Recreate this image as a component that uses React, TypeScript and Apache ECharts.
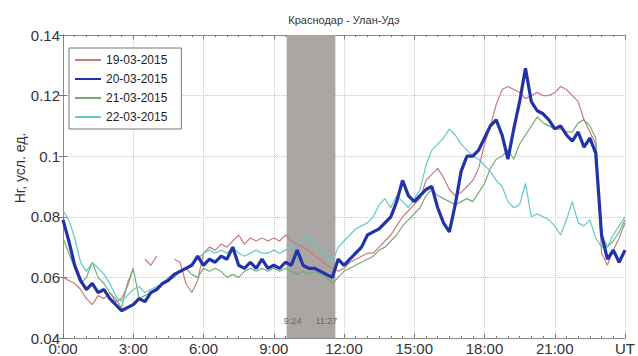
import React, { useEffect, useRef } from "react";
import * as echarts from "echarts";

const TITLE = "Краснодар - Улан-Удэ";
const Y_NAME = "Нг, усл. ед.";
const SERIES_NAMES = ["19-03-2015", "20-03-2015", "21-03-2015", "22-03-2015"];
const SERIES_COLORS = ["#c97b7b", "#2233aa", "#74ad74", "#62c8c8"];
const X_TICK_LABELS = ["0:00", "3:00", "6:00", "9:00", "12:00", "15:00", "18:00", "21:00", "UT"];
const STEP_HOURS = 0.25;
const SHADE_RANGE = [9.55, 11.63];
const SHADE_LABELS = ["9:24", "11:27"];

// values every 15 minutes, 0:00 .. 24:00 (null = no data)
const D19: (number | null)[] = [
  0.060, 0.059, 0.058, 0.056, 0.053, 0.051, 0.054, 0.053, 0.055, 0.052, 0.053, 0.057,
  0.063, null, 0.066, 0.064, 0.067, null, null, 0.066, 0.065, 0.058, 0.055, 0.059,
  0.068, 0.070, 0.069, 0.071, 0.070, 0.072, 0.074, 0.071, 0.073, 0.072, 0.073, 0.072,
  0.073, 0.072, 0.074, 0.072, 0.071, 0.070, 0.069, 0.067, 0.066, 0.064, 0.063, 0.062,
  0.063, 0.065, 0.066, 0.067, 0.068, 0.068, 0.070, 0.072, 0.074, 0.077, 0.080, 0.082,
  0.084, 0.086, 0.092, 0.094, 0.096, 0.093, 0.089, 0.087, 0.088, 0.090, 0.092, 0.096,
  0.104, 0.110, 0.117, 0.122, 0.123, 0.122, 0.121, 0.119, 0.120, 0.121, 0.120, 0.120,
  0.121, 0.123, 0.122, 0.120, 0.118, 0.112, 0.108, 0.104, 0.068, 0.064, 0.069, 0.073,
  0.078,
];
const D20: (number | null)[] = [
  0.079, 0.072, 0.064, 0.059, 0.056, 0.058, 0.055, 0.056, 0.053, 0.051, 0.049, 0.050,
  0.051, 0.053, 0.052, 0.055, 0.056, 0.058, 0.059, 0.061, 0.062, 0.063, 0.064, 0.067,
  0.064, 0.066, 0.065, 0.067, 0.066, 0.070, 0.064, 0.063, 0.065, 0.063, 0.066, 0.063,
  0.064, 0.063, 0.065, 0.064, 0.069, 0.064, 0.063, 0.063, 0.062, 0.061, 0.060, 0.066,
  0.064, 0.066, 0.068, 0.070, 0.074, 0.075, 0.076, 0.078, 0.080, 0.085, 0.092, 0.087,
  0.085, 0.087, 0.089, 0.090, 0.083, 0.078, 0.075, 0.084, 0.095, 0.100, 0.100, 0.102,
  0.106, 0.110, 0.112, 0.107, 0.099, 0.109, 0.118, 0.129, 0.118, 0.115, 0.114, 0.112,
  0.109, 0.110, 0.107, 0.105, 0.108, 0.103, 0.106, 0.101, 0.074, 0.066, 0.069, 0.065,
  0.069,
];
const D21: (number | null)[] = [
  0.073, 0.068, 0.063, 0.058, 0.060, 0.065, 0.060, 0.058, 0.055, 0.053, 0.050, 0.058,
  0.063, 0.053, 0.054, 0.055, 0.056, 0.058, 0.059, 0.060, 0.062, 0.063, 0.061, 0.060,
  0.063, 0.062, 0.063, 0.062, 0.060, 0.061, 0.060, 0.062, 0.063, 0.062, 0.063, 0.062,
  0.063, 0.062, 0.063, 0.062, 0.061, 0.062, 0.061, 0.062, 0.061, 0.060, 0.058, 0.060,
  0.062, 0.063, 0.064, 0.065, 0.066, 0.067, 0.069, 0.070, 0.072, 0.074, 0.077, 0.079,
  0.081, 0.083, 0.087, 0.089, 0.087, 0.086, 0.085, 0.084, 0.085, 0.086, 0.085, 0.088,
  0.091, 0.096, 0.099, 0.100, 0.102, 0.099, 0.104, 0.107, 0.110, 0.113, 0.111, 0.110,
  0.109, 0.109, 0.108, 0.108, 0.111, 0.112, 0.110, 0.106, 0.074, 0.070, 0.072, 0.075,
  0.079,
];
const D22: (number | null)[] = [
  0.082, 0.079, 0.073, 0.065, 0.062, 0.065, 0.063, 0.061, 0.058, 0.054, 0.052, 0.054,
  0.056, 0.057, 0.055, 0.056, 0.057, 0.058, 0.060, 0.061, 0.062, 0.063, 0.064, 0.066,
  0.068, 0.069, 0.068, 0.069, 0.068, 0.070, 0.068, 0.067, 0.068, 0.069, 0.068, 0.068,
  0.069, 0.068, 0.069, 0.070, 0.071, 0.072, 0.074, 0.071, 0.069, 0.067, 0.065, 0.070,
  0.072, 0.074, 0.076, 0.077, 0.078, 0.080, 0.084, 0.086, 0.083, 0.087, 0.085, 0.083,
  0.086, 0.089, 0.097, 0.102, 0.104, 0.106, 0.109, 0.107, 0.104, 0.102, 0.100, 0.099,
  0.097, 0.095, 0.092, 0.090, 0.085, 0.083, 0.084, 0.091, 0.080, 0.081, 0.080, 0.079,
  0.077, 0.074, 0.079, 0.085, 0.078, 0.077, 0.079, 0.073, 0.070, 0.070, 0.074, 0.077,
  0.080,
];

const FONT = "'Liberation Sans', Arial, Helvetica, sans-serif";

function toPairs(d: (number | null)[]) {
  return d.map((v, i) => [i * STEP_HOURS, v === null ? "-" : v]);
}

export default function App() {
  const ref = useRef<HTMLDivElement>(null);
  useEffect(() => {
    if (!ref.current) return;
    const chart = echarts.init(ref.current, undefined, { renderer: "svg" });
    const xBase = {
      type: "value" as const,
      min: 0,
      max: 24,
      interval: 3,
      axisLine: { show: true, lineStyle: { color: "#8a8a8a", width: 1 } },
      axisTick: { show: true, inside: true, length: 4, lineStyle: { color: "#777" } },
      minorTick: { show: true, splitNumber: 6, length: 2, lineStyle: { color: "#777" } },
    };
    const yBase = {
      type: "value" as const,
      min: 0.04,
      max: 0.14,
      interval: 0.02,
      axisLine: { show: true, lineStyle: { color: "#8a8a8a", width: 1 } },
      axisTick: { show: true, inside: true, length: 4, lineStyle: { color: "#777" } },
    };
    const datasets = [D19, D20, D21, D22];
    const drawOrder = [0, 2, 3, 1];
    const series: any[] = drawOrder.map((idx, k) => ({
      name: SERIES_NAMES[idx],
      type: "line",
      data: toPairs(datasets[idx]),
      symbol: "none",
      showSymbol: false,
      connectNulls: false,
      z: 2 + k,
      lineStyle: { color: SERIES_COLORS[idx], width: idx === 1 ? 3.2 : 1.2 },
      itemStyle: { color: SERIES_COLORS[idx] },
      ...(k === 0
        ? {
            markArea: {
              silent: true,
              itemStyle: { color: "#aaa6a3", opacity: 1 },
              data: [[{ xAxis: SHADE_RANGE[0] }, { xAxis: SHADE_RANGE[1] }]],
            },
          }
        : {}),
    }));
    chart.setOption({
      animation: false,
      backgroundColor: "#fff",
      textStyle: { fontFamily: FONT },
      grid: { left: 63, right: 10, top: 35, bottom: 16, containLabel: false },
      legend: {
        data: SERIES_NAMES,
        orient: "vertical",
        left: 69,
        top: 48,
        itemWidth: 26,
        itemHeight: 12,
        itemGap: 7,
        padding: [6, 14, 6, 5],
        backgroundColor: "#fff",
        borderColor: "#777",
        borderWidth: 1,
        itemStyle: { opacity: 0, borderWidth: 0 },
        textStyle: { fontSize: 12, color: "#222", fontFamily: FONT },
      },
      xAxis: [
        {
          ...xBase,
          position: "bottom",
          splitLine: { show: true, lineStyle: { color: "#c8c8c8", type: "dotted" } },
          axisLabel: {
            show: true,
            fontSize: 15,
            color: "#333",
            margin: 3,
            showMinLabel: true,
            showMaxLabel: true,
            formatter: (v: number) => X_TICK_LABELS[Math.round(v / 3)] ?? "",
          },
        },
        {
          ...xBase,
          position: "top",
          splitLine: { show: false },
          axisLabel: { show: false },
        },
      ],
      yAxis: [
        {
          ...yBase,
          position: "left",
          splitLine: { show: true, lineStyle: { color: "#c8c8c8", type: "dotted" } },
          axisLabel: {
            show: true,
            fontSize: 15,
            color: "#333",
            margin: 3,
            showMinLabel: true,
            showMaxLabel: true,
            formatter: (v: number) => String(parseFloat(v.toFixed(2))),
          },
        },
        {
          ...yBase,
          position: "right",
          splitLine: { show: false },
          axisLabel: { show: false },
        },
      ],
      series,
    });

    const px0 = chart.convertToPixel({ xAxisIndex: 0 }, SHADE_RANGE[0]) as number;
    const px1 = chart.convertToPixel({ xAxisIndex: 0 }, SHADE_RANGE[1]) as number;
    const plotTop = chart.convertToPixel({ yAxisIndex: 0 }, 0.14) as number;
    const plotBottom = chart.convertToPixel({ yAxisIndex: 0 }, 0.04) as number;
    const plotLeft = chart.convertToPixel({ xAxisIndex: 0 }, 0) as number;
    const plotRight = chart.convertToPixel({ xAxisIndex: 0 }, 24) as number;
    chart.setOption({
      graphic: [
        {
          type: "text",
          x: (plotLeft + plotRight) / 2,
          y: plotTop - 15,
          z: 100,
          style: { text: TITLE, font: `11px ${FONT}`, fill: "#333", align: "center", verticalAlign: "middle" },
        },
        {
          type: "text",
          x: 20,
          y: 168,
          rotation: Math.PI / 2,
          z: 100,
          style: { text: Y_NAME, font: `14px ${FONT}`, fill: "#333", align: "center", verticalAlign: "middle" },
        },
        {
          type: "text",
          x: px0 + 6,
          y: plotBottom - 17,
          z: 100,
          style: { text: SHADE_LABELS[0], font: `9px ${FONT}`, fill: "#6a6a6a", align: "center", verticalAlign: "middle" },
        },
        {
          type: "text",
          x: px1 - 9,
          y: plotBottom - 17,
          z: 100,
          style: { text: SHADE_LABELS[1], font: `9px ${FONT}`, fill: "#6a6a6a", align: "center", verticalAlign: "middle" },
        },
      ],
    });
    return () => chart.dispose();
  }, []);
  return <div ref={ref} style={{ width: 638, height: 356, position: "absolute", left: 0, top: 0 }} />;
}
